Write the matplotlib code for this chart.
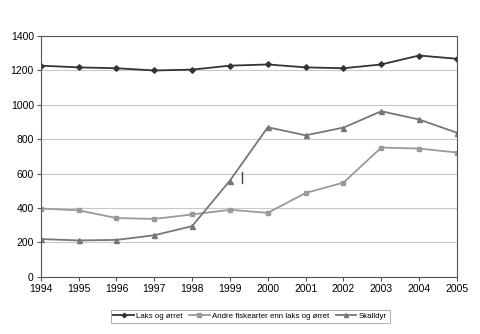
import numpy as np
import matplotlib
matplotlib.use('Agg')
import matplotlib.pyplot as plt

plt.rcParams['font.family'] = ['Liberation Sans', 'DejaVu Sans']

# --- Data ---
years = [1994, 1995, 1996, 1997, 1998, 1999, 2000, 2001, 2002, 2003, 2004, 2005]
laks = [1228, 1218, 1213, 1200, 1205, 1228, 1235, 1218, 1213, 1235, 1287, 1268]
andre = [397, 387, 342, 337, 363, 390, 372, 488, 548, 752, 746, 723]
skalldyr = [220, 212, 215, 242, 295, 560, 870, 823, 868, 963, 915, 838]
labels = ['Laks og ørret', 'Andre fiskearter enn laks og ørret', 'Skalldyr']

fig = plt.figure(figsize=(4.8, 3.34), dpi=100)
ax = fig.add_axes([0.085, 0.171, 0.867, 0.721])

ax.plot(years, laks, color='#333333', lw=1.3, marker='D', ms=2.8, label=labels[0])
ax.plot(years, andre, color='#9a9a9a', lw=1.3, marker='s', ms=3.2, label=labels[1])
ax.plot(years, skalldyr, color='#777777', lw=1.3, marker='^', ms=3.6, label=labels[2])

# stray tick mark seen in the original
ax.plot([1999.32, 1999.32], [546, 610], color='#444444', lw=1)

ax.set_xlim(1994, 2005)
ax.set_ylim(0, 1400)
ax.set_xticks(years)
ax.set_yticks(np.arange(0, 1401, 200))
ax.grid(axis='y', color='#c8c8c8', lw=0.8)
ax.set_axisbelow(True)
for s in ax.spines.values():
    s.set_color('#555555')
    s.set_linewidth(0.8)
ax.tick_params(labelsize=7.5, length=3, color='#555555', pad=2)

leg = fig.legend(loc='lower center', bbox_to_anchor=(0.521, 0.022), ncol=3, fontsize=5.7,
                 frameon=True, fancybox=False, edgecolor='#888888', handlelength=2.6,
                 columnspacing=0.8, handletextpad=0.3, borderpad=0.35, markerscale=0.8)
leg.get_frame().set_linewidth(0.6)

fig.savefig('out.png', dpi=100)
